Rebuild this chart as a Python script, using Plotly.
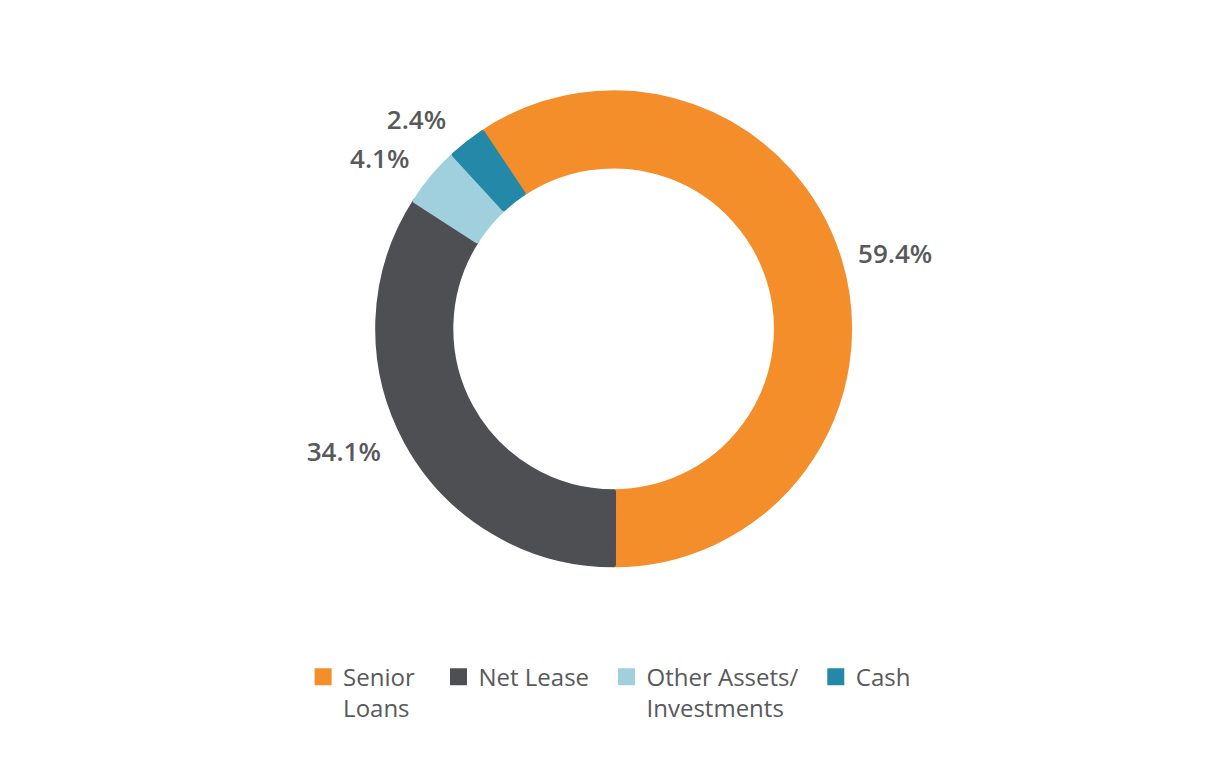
import plotly.graph_objects as go

# Portfolio allocation
labels = ["Senior<br>Loans", "Net Lease", "Other Assets/<br>Investments", "Cash"]
values = [59.4, 34.1, 4.1, 2.4]
colors = ["#F48E2B", "#4E4F53", "#A0CFDD", "#2489A8"]

# extra room after each legend entry (no-break spaces)
pads = [3, 2, 2, 0]
legend_names = []
for name, n in zip(labels, pads):
    first, _, rest = name.partition("<br>")
    legend_names.append(first + "\u00a0" * n + ("<br>" + rest if rest else ""))

fig = go.Figure()

# the ring itself
fig.add_trace(
    go.Pie(
        labels=legend_names,
        values=values,
        sort=False,
        direction="clockwise",
        rotation=326.2,
        hole=0.69,
        # outline in slice colour, also makes legend squares bigger
        marker=dict(colors=colors, line=dict(color=colors, width=5)),
        textinfo="none",
        hoverinfo="label+percent",
        domain=dict(x=[0.194, 0.794], y=[0.24, 0.934]),
    )
)

# invisible, slightly bigger ring only to push the % labels further out
fig.add_trace(
    go.Pie(
        labels=legend_names,
        values=values,
        sort=False,
        direction="clockwise",
        rotation=326.2,
        hole=0.98,
        marker=dict(colors=["rgba(0,0,0,0)"] * len(values), line=dict(width=0)),
        texttemplate="%{value:.1f}%",
        textposition="outside",
        textfont=dict(family="Open Sans", size=26, color="#58595B", weight=600),
        hoverinfo="skip",
        showlegend=False,
        domain=dict(x=[0.1907, 0.7907], y=[0.222, 0.958]),
    )
)

fig.update_layout(
    width=1226,
    height=760,
    margin=dict(l=0, r=0, t=40, b=40),
    paper_bgcolor="white",
    plot_bgcolor="white",
    showlegend=True,
    legend=dict(
        orientation="h",
        x=0.4907,
        xanchor="center",
        y=0.108,
        yanchor="top",
        valign="top",
        font=dict(family="Open Sans", size=24, color="#58595B"),
        traceorder="normal",
    ),
)

fig.write_html("out.html")
